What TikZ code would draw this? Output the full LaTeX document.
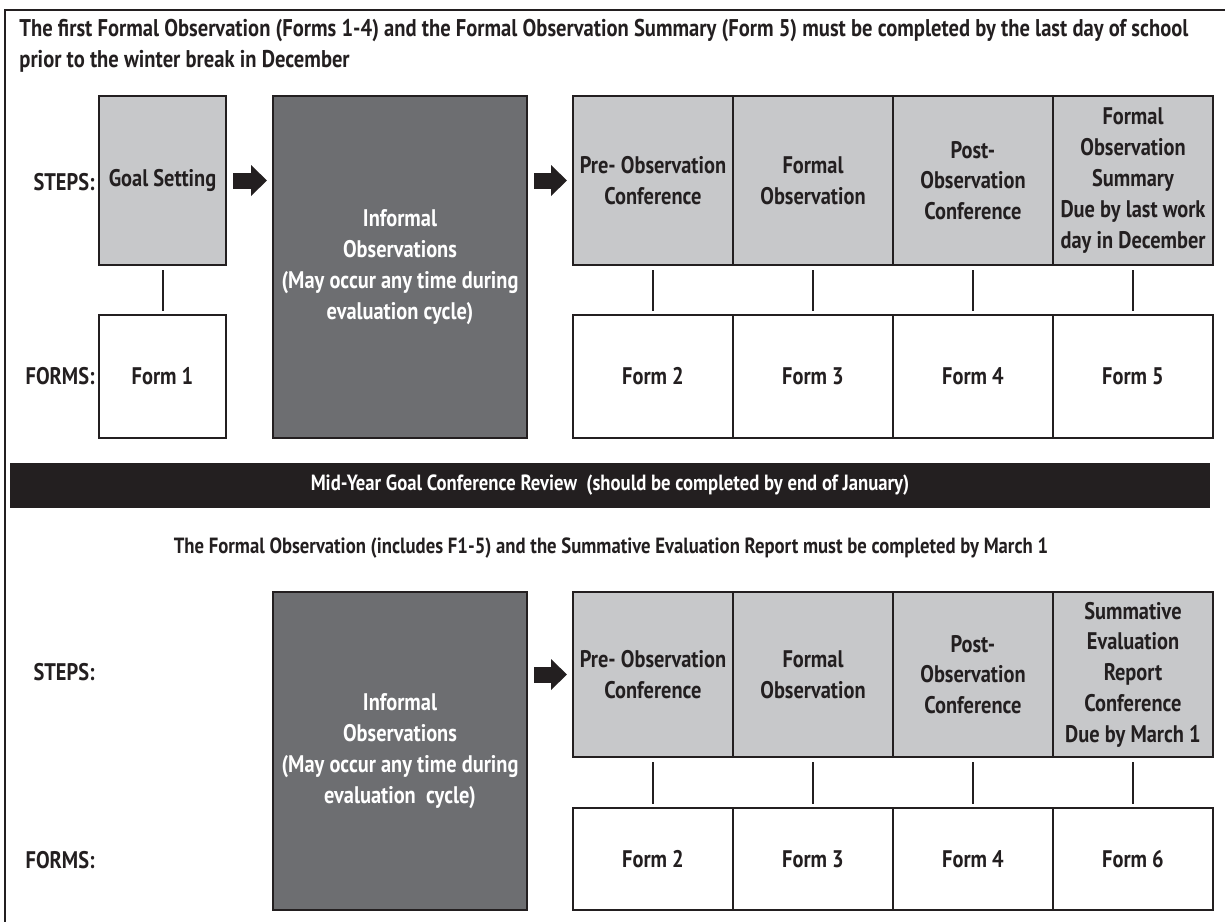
\documentclass[tikz,border=0pt]{standalone}
\usepackage{fontspec}
\setmainfont{PT Sans}[FakeStretch=0.85]
\usetikzlibrary{positioning}
\usetikzlibrary{arrows.meta}
\definecolor{stepgray}{HTML}{C7C8CA}
\definecolor{infogray}{HTML}{6D6E71}
\definecolor{inkblack}{HTML}{231F20}
\tikzset{
	boxnode/.style = {
		align=center,
		inner sep=0pt,
		outer sep=0pt,
		font=\bfseries\fontsize{12}{15.4}\selectfont,
		rectangle,
		draw=inkblack,
		text=inkblack,
		line width=1.1pt
	},
	node_step/.style = {
		boxnode,
		fill=stepgray,
		minimum width=80pt,
		minimum height=84.5pt
	},
	node_step_low/.style = {
		node_step,
		minimum height=82.5pt
	},
	node_goal/.style = {
		node_step,
		minimum width=63.5pt
	},
	node_form/.style = {
		boxnode,
		fill=white,
		minimum width=80pt,
		minimum height=61.5pt
	},
	node_form_low/.style = {
		node_form,
		minimum height=51pt
	},
	node_info/.style = {
		boxnode,
		fill=infogray,
		text=white,
		minimum width=127pt,
		minimum height=171pt
	},
	node_label/.style = {
		anchor=east,
		inner sep=0pt,
		text=inkblack,
		font=\bfseries\fontsize{12}{15.4}\selectfont
	},
	node_title/.style = {
		align=left,
		inner sep=0pt,
		text=inkblack,
		font=\bfseries\fontsize{12.1}{15.5}\selectfont
	},
	node_bar/.style = {
		fill=inkblack,
		text=white,
		inner sep=0pt,
		minimum width=600pt,
		minimum height=22.5pt,
		font=\bfseries\fontsize{11}{12}\selectfont
	},
	link/.style = {
		draw=inkblack,
		line width=1pt,
		shorten <=2.5pt,
		shorten >=2pt
	},
	bigarrow/.style = {
		draw=inkblack,
		line width=8pt,
		shorten <=3.5pt,
		shorten >=3pt,
		-{Triangle[length=8pt,width=15pt]}
	}
}
\begin{document}
\begin{tikzpicture}[x=0.5pt,y=-0.5pt]
\useasboundingbox (0,0) rectangle (1225,922);
\draw[inkblack,line width=1pt] (1225,10) -- (5,10) -- (5,922);

\node [node_title, anchor=west] (title1) at (19,46) {The first Formal Observation (Forms 1-4) and the Formal Observation Summary (Form 5) must be completed by the last day of school\\prior to the winter break in December};

\node [node_label] (steps1) at (95,182) {STEPS:};
\node [node_label] (forms1) at (95,376) {FORMS:};

\node [node_goal] (goal) at (162.5,180.5) {Goal Setting};
\node [node_form, minimum width=63.5pt] (form1) at (162.5,376.5) {Form 1};
\node [node_info] (info1) at (400,267) {Informal\\Observations\\(May occur any time during\\evaluation cycle)};

\node [node_step] (pre1) at (653,180.5) {Pre- Observation\\Conference};
\node [node_step, right=0pt of pre1] (formal1) {Formal\\Observation};
\node [node_step, right=0pt of formal1] (post1) {Post-\\Observation\\Conference};
\node [node_step, right=0pt of post1] (summary1) {Formal\\Observation\\Summary\\Due by last work\\day in December};

\node [node_form] (formtwo1) at (653,376.5) {Form 2};
\node [node_form, right=0pt of formtwo1] (formthree1) {Form 3};
\node [node_form, right=0pt of formthree1] (formfour1) {Form 4};
\node [node_form, right=0pt of formfour1] (formfive1) {Form 5};

\draw[link] (goal) -- (form1);
\draw[link] (pre1) -- (formtwo1);
\draw[link] (formal1) -- (formthree1);
\draw[link] (post1) -- (formfour1);
\draw[link] (summary1) -- (formfive1);

\draw[bigarrow] (goal.east) -- (goal.east -| info1.west);
\draw[bigarrow] (info1.east |- pre1) -- (pre1.west);

\node [node_bar] (midyear) at (610,485.5) {Mid-Year Goal Conference Review\ \ (should be completed by end of January)};

\node [node_title, font=\bfseries\fontsize{11}{15.5}\selectfont] (title2) at (611,548) {The Formal Observation (includes F1-5) and the Summative Evaluation Report must be completed by March 1};

\node [node_label] (steps2) at (95,672) {STEPS:};
\node [node_label] (forms2) at (95,860) {FORMS:};

\node [node_info, minimum height=159pt] (info2) at (400,751) {Informal\\Observations\\(May occur any time during\\evaluation\ \ cycle)};

\node [node_step_low] (pre2) at (653,674.5) {Pre- Observation\\Conference};
\node [node_step_low, right=0pt of pre2] (formal2) {Formal\\Observation};
\node [node_step_low, right=0pt of formal2] (post2) {Post-\\Observation\\Conference};
\node [node_step_low, right=0pt of post2] (summary2) {Summative\\Evaluation\\Report\\Conference\\Due by March 1};

\node [node_form_low] (formtwo2) at (653,859) {Form 2};
\node [node_form_low, right=0pt of formtwo2] (formthree2) {Form 3};
\node [node_form_low, right=0pt of formthree2] (formfour2) {Form 4};
\node [node_form_low, right=0pt of formfour2] (formsix2) {Form 6};

\draw[link] (pre2) -- (formtwo2);
\draw[link] (formal2) -- (formthree2);
\draw[link] (post2) -- (formfour2);
\draw[link] (summary2) -- (formsix2);

\draw[bigarrow] (info2.east |- pre2) -- (pre2.west);
\end{tikzpicture}
\end{document}
